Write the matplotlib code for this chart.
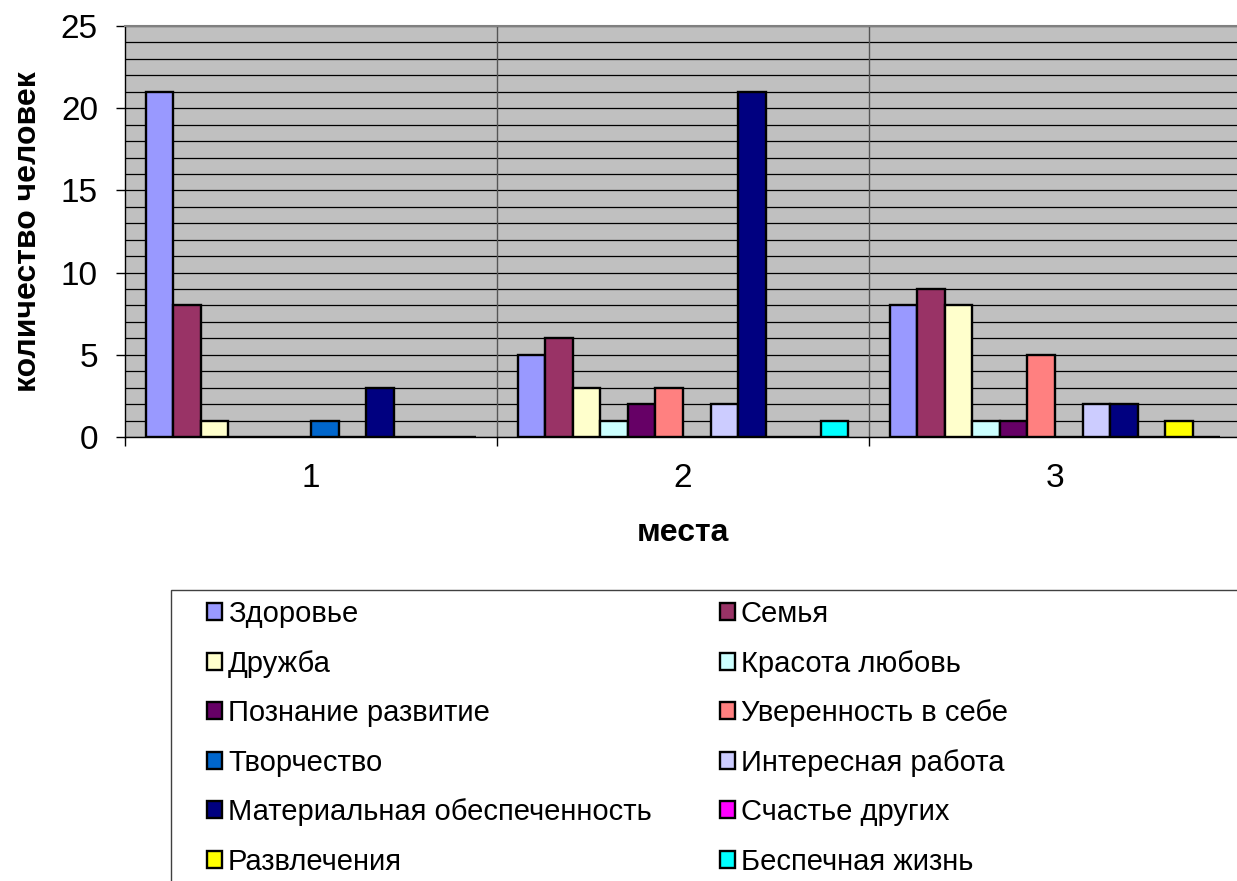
import matplotlib
matplotlib.use("Agg")
import matplotlib.pyplot as plt
from matplotlib.patches import Rectangle
import numpy as np

plt.rcParams['font.family'] = ['Liberation Sans', 'DejaVu Sans']

places = ["1", "2", "3"]
series_names = ["Здоровье", "Семья", "Дружба", "Красота любовь",
                "Познание развитие", "Уверенность в себе", "Творчество",
                "Интересная работа", "Материальная обеспеченность",
                "Счастье других", "Развлечения", "Беспечная жизнь"]
colors = ["#9999FF", "#993366", "#FFFFCC", "#CCFFFF", "#660066", "#FF8080",
          "#0066CC", "#CCCCFF", "#000080", "#FF00FF", "#FFFF00", "#00FFFF"]

zdorovie   = [21, 5, 8]
semya      = [8, 6, 9]
druzhba    = [1, 3, 8]
krasota    = [0, 1, 1]
poznanie   = [0, 2, 1]
uverennost = [0, 3, 5]
tvorchestvo = [1, 0, 0]
interesnaya = [0, 2, 2]
materialnaya = [3, 21, 2]
schastie   = [0, 0, 0]
razvlechenia = [0, 0, 1]
bespechnaya = [0, 1, 0]

values = [zdorovie, semya, druzhba, krasota, poznanie, uverennost,
          tvorchestvo, interesnaya, materialnaya, schastie, razvlechenia,
          bespechnaya]

W, H = 1237, 881
fig = plt.figure(figsize=(W / 100, H / 100), dpi=100)
ax = fig.add_axes([125 / W, 1 - 437 / H, (1241 - 125) / W, (437 - 26) / H])
ax.set_facecolor("#C0C0C0")

n = len(series_names)
w = 1 / (n + 1.5)
x = np.arange(1, len(places) + 1)
handles = []
for i, (name, vals, c) in enumerate(zip(series_names, values, colors)):
    pos = x - n * w / 2 + (i + 0.5) * w
    b = ax.bar(pos, vals, width=w, color=c, edgecolor="black",
               linewidth=1.7, label=name, zorder=3)
    handles.append(b)

ax.set_xlim(0.5, 3.5)
ax.set_ylim(0, 25)

# grid
ax.set_yticks(np.arange(0, 26, 5))
ax.set_yticks(np.arange(0, 26, 1), minor=True)
ax.yaxis.grid(True, which="both", color="black", linewidth=0.9, zorder=1)
ax.set_axisbelow(True)
for xv in [1.5, 2.5]:
    ax.axvline(xv, color="#555555", linewidth=1.0, zorder=1)

ax.set_xticks([0.5, 1.5, 2.5, 3.5])
ax.set_xticklabels([])
ax.set_xticks(x, minor=True)
ax.set_xticklabels(places, minor=True)
ax.tick_params(axis="x", which="major", length=6.5, width=1, direction="out")
ax.tick_params(axis="x", which="minor", length=0, pad=19, labelsize=24)
ax.tick_params(axis="y", which="major", length=6.5, width=1, direction="out",
               pad=13, labelsize=24)
ax.tick_params(axis="y", which="minor", length=0)

for s in ["left", "bottom"]:
    ax.spines[s].set_color("black")
    ax.spines[s].set_linewidth(1.0)
ax.spines["right"].set_visible(False)
ax.spines["top"].set_color("#808080")
ax.spines["top"].set_linewidth(1.5)

ax.set_ylabel("количество человек", fontsize=23, fontweight="bold")
ax.yaxis.set_label_coords(-0.0735, 0.5)
ax.set_xlabel("места", fontsize=23, fontweight="bold")
ax.xaxis.set_label_coords(0.5, -0.197)

# legend frame
fig.patches.append(Rectangle((171 / W, -0.05), (W + 10 - 171) / W, 1.05 - 590 / H,
                             transform=fig.transFigure, facecolor="white",
                             edgecolor="#404040", linewidth=1.0, zorder=0))

col1 = [handles[i] for i in range(0, n, 2)]
col2 = [handles[i] for i in range(1, n, 2)]
lab1 = [series_names[i] for i in range(0, n, 2)]
lab2 = [series_names[i] for i in range(1, n, 2)]
common = dict(loc="upper left", frameon=False, fontsize=21, borderpad=0,
              borderaxespad=0, handlelength=0.52, handleheight=0.52,
              handletextpad=0.2, labelspacing=0.74)
leg1 = fig.legend(col1, lab1, bbox_to_anchor=(207 / W, 1 - 600 / H), **common)
leg2 = fig.legend(col2, lab2, bbox_to_anchor=(720 / W, 1 - 600 / H), **common)
for leg in (leg1, leg2):
    for p in leg.get_patches():
        p.set_linewidth(1.7)

fig.savefig("out.png", dpi=100)
